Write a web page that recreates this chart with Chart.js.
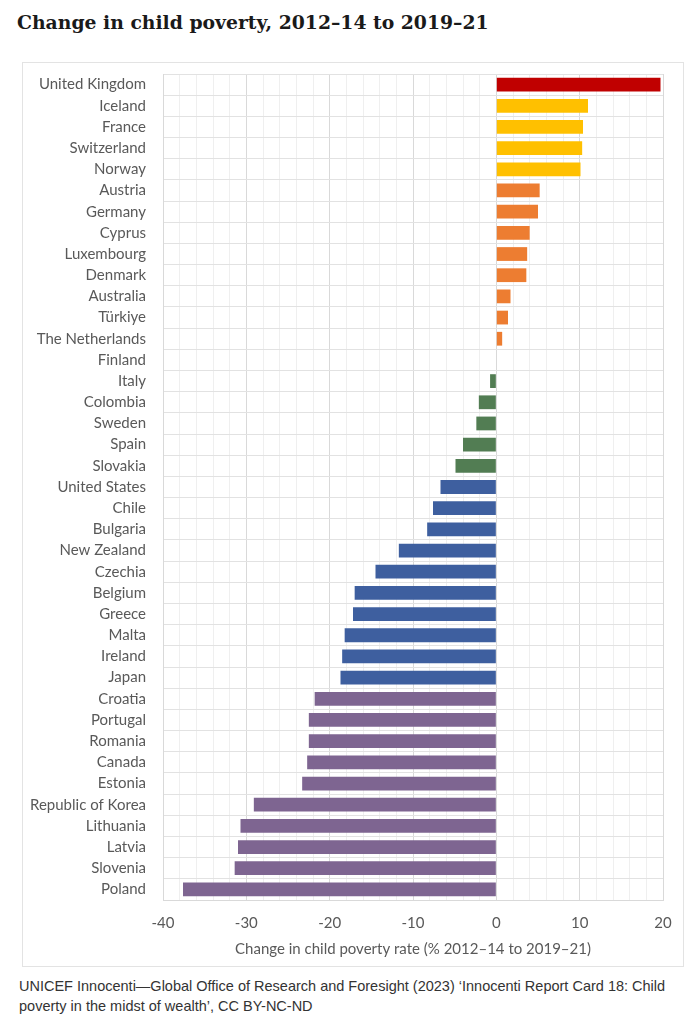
<!DOCTYPE html>
<html>
<head>
<meta charset="utf-8">
<script src="https://cdn.jsdelivr.net/npm/chart.js@4.4.0/dist/chart.umd.min.js"></script>
<style>
  body { margin: 0; background: #fff; }
  #title {
    position: absolute; left: 17px; top: 11px;
    font-family: "DejaVu Serif", serif; font-weight: bold; font-size: 18.8px; color: #1a1a1a;
  }
  #box {
    position: absolute; left: 22px; top: 62px; width: 660px; height: 903px;
    border: 1px solid #e3e3e3;
  }
  #caption {
    position: absolute; left: 19px; top: 976px; width: 675px;
    font-family: "Liberation Sans", Arial, sans-serif; font-size: 14.5px; line-height: 20px; color: #333;
  }
</style>
</head>
<body>
<div id="title">Change in child poverty, 2012–14 to 2019–21</div>
<div id="box"><canvas id="chart" width="660" height="903"></canvas></div>
<div id="caption">UNICEF Innocenti—Global Office of Research and Foresight (2023) ‘Innocenti Report Card 18: Child<br>poverty in the midst of wealth’, CC BY-NC-ND</div>
<script>
const countries = ['United Kingdom', 'Iceland', 'France', 'Switzerland', 'Norway', 'Austria', 'Germany',
  'Cyprus', 'Luxembourg', 'Denmark', 'Australia', 'Türkiye', 'The Netherlands', 'Finland', 'Italy',
  'Colombia', 'Sweden', 'Spain', 'Slovakia', 'United States', 'Chile', 'Bulgaria', 'New Zealand',
  'Czechia', 'Belgium', 'Greece', 'Malta', 'Ireland', 'Japan', 'Croatia', 'Portugal', 'Romania',
  'Canada', 'Estonia', 'Republic of Korea', 'Lithuania', 'Latvia', 'Slovenia', 'Poland'];

const change = [19.7, 11.0, 10.4, 10.3, 10.1, 5.2, 5.0, 4.0, 3.7, 3.6, 1.7, 1.4, 0.7, 0, -0.75,
  -2.1, -2.4, -4.0, -4.9, -6.7, -7.6, -8.3, -11.7, -14.5, -17.0, -17.2, -18.2, -18.5, -18.7,
  -21.8, -22.5, -22.5, -22.7, -23.3, -29.1, -30.7, -31.0, -31.4, -37.6];

// colour group of each country, as in the original
const group = ['top', 'high', 'high', 'high', 'high', 'up', 'up', 'up', 'up', 'up', 'up', 'up', 'up',
  'flat', 'down', 'down', 'down', 'down', 'down', 'fall', 'fall', 'fall', 'fall', 'fall', 'fall',
  'fall', 'fall', 'fall', 'fall', 'drop', 'drop', 'drop', 'drop', 'drop', 'drop', 'drop', 'drop',
  'drop', 'drop'];

const xTicks = [-40, -30, -20, -10, 0, 10, 20];

const palette = {
  top: '#C00000', high: '#FFC000', up: '#ED7D31', flat: '#ED7D31',
  down: '#527D53', fall: '#3E5F9F', drop: '#7E6591'
};

const ctx = document.getElementById('chart').getContext('2d');
const chart = new Chart(ctx, {
  type: 'bar',
  data: {
    labels: countries,
    datasets: [{
      data: change,
      backgroundColor: group.map(g => palette[g]),
      barPercentage: 0.65,
      categoryPercentage: 1.0
    }]
  },
  options: {
    indexAxis: 'y',
    responsive: false,
    animation: false,
    layout: { padding: { top: 11, right: 20, left: 0, bottom: 0 } },
    plugins: { legend: { display: false }, tooltip: { enabled: false } },
    scales: {
      x: {
        min: xTicks[0],
        max: xTicks[xTicks.length - 1],
        afterBuildTicks: scale => {
          const t = [];
          for (let v = xTicks[0]; v <= xTicks[xTicks.length - 1]; v += 2) t.push({ value: v });
          scale.ticks = t;
        },
        afterFit: scale => {
          scale.height = 66;
          scale.paddingLeft = 0;
          scale.paddingRight = 0;
        },
        grid: {
          drawTicks: false,
          color: c => (xTicks.includes(c.tick.value) ? '#d9d9d9' : '#efefef')
        },
        border: { color: '#d9d9d9' },
        ticks: {
          autoSkip: false,
          maxRotation: 0,
          padding: 14,
          color: '#595959',
          font: { family: 'Lato', size: 15 },
          callback: v => (xTicks.includes(v) ? String(v) : '')
        },
        title: {
          display: true,
          text: 'Change in child poverty rate (% 2012–14 to 2019–21)',
          color: '#595959',
          font: { family: 'Lato', size: 15 },
          padding: { top: 0, bottom: 8 }
        }
      },
      y: {
        afterFit: scale => {
          scale.width = 140;
          scale.paddingTop = 0;
          scale.paddingBottom = 0;
        },
        grid: { offset: true, drawTicks: false, color: '#e2e2e2' },
        border: { color: '#d9d9d9' },
        ticks: {
          autoSkip: false,
          padding: 17,
          color: '#595959',
          font: { family: 'Lato', size: 15 }
        }
      }
    }
  }
});
</script>
</body>
</html>
